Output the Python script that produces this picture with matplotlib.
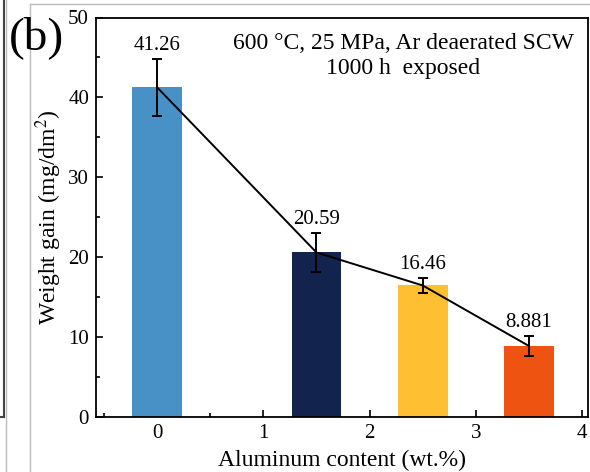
import matplotlib
matplotlib.use("Agg")
import matplotlib.pyplot as plt
from matplotlib.lines import Line2D
from matplotlib.ticker import MultipleLocator

plt.rcParams['font.family'] = ['Liberation Serif', 'DejaVu Serif']
plt.rcParams['mathtext.fontset'] = 'stix'

positions = [0, 1.5, 2.5, 3.5]
weight_gain = [41.26, 20.59, 16.46, 8.881]
errors = [3.6, 2.4, 0.9, 1.25]
value_labels = ["41.26", "20.59", "16.46", "8.881"]
colors = ["#4791C6", "#12234E", "#FEC032", "#EE5311"]

fig = plt.figure(figsize=(5.9, 4.72), dpi=100)
ax = fig.add_axes([96/590, 1-417/472, (588-96)/590, (417-17.5)/472])

ax.bar(positions, weight_gain, width=0.47, color=colors, zorder=2)
ax.plot(positions, weight_gain, color='black', lw=1.4, zorder=3)
ax.errorbar(positions, weight_gain, yerr=errors, fmt='none', ecolor='black',
            elinewidth=1.4, capsize=3.5, capthick=1.4, zorder=4)
for x, y, e, s in zip(positions, weight_gain, errors, value_labels):
    ax.text(x, y + e + 0.5, s, ha='center', va='bottom', fontsize=15)

ax.set_xlim(-0.575, 4.055)
ax.set_ylim(0, 50)
ax.xaxis.set_major_locator(MultipleLocator(1))
ax.xaxis.set_minor_locator(MultipleLocator(0.5))
ax.yaxis.set_major_locator(MultipleLocator(10))
ax.yaxis.set_minor_locator(MultipleLocator(5))
ax.tick_params(which='both', direction='in', labelsize=15, width=1.2)
ax.tick_params(which='major', length=5, pad=5)
ax.tick_params(which='minor', length=3)
for sp in ax.spines.values():
    sp.set_linewidth(1.3)

ax.set_xlabel("Aluminum content (wt.%)", fontsize=17, labelpad=5)
ax.set_ylabel("Weight gain (mg/dm$^2$)", fontsize=17, labelpad=3)

ax.text(0.625, 0.96, "600 \u00b0C, 25 MPa, Ar deaerated SCW\n1000 h  exposed",
        transform=ax.transAxes, ha='center', va='top', fontsize=17, linespacing=1.22)

fig.text(9/590, 1-38/472, "(b)", fontsize=34, ha='left', va='center')

# panel frame remnants
W, H = 590, 472
def fl(x0, y0, x1, y1, color, lw):
    fig.add_artist(Line2D([x0/W, x1/W], [1-y0/H, 1-y1/H], color=color, lw=lw,
                          transform=fig.transFigure))
fl(3.5, 0, 3.5, 417, '#444444', 1.5)
fl(0, 417, 4, 417, '#444444', 1.5)
fl(5.5, 0, 5.5, 472, '#bbbbbb', 1.0)
fl(29.5, 4, 29.5, 472, '#bbbbbb', 1.0)
fl(29.5, 4, 590, 4, '#bbbbbb', 1.0)

fig.savefig("out.png", dpi=100)
